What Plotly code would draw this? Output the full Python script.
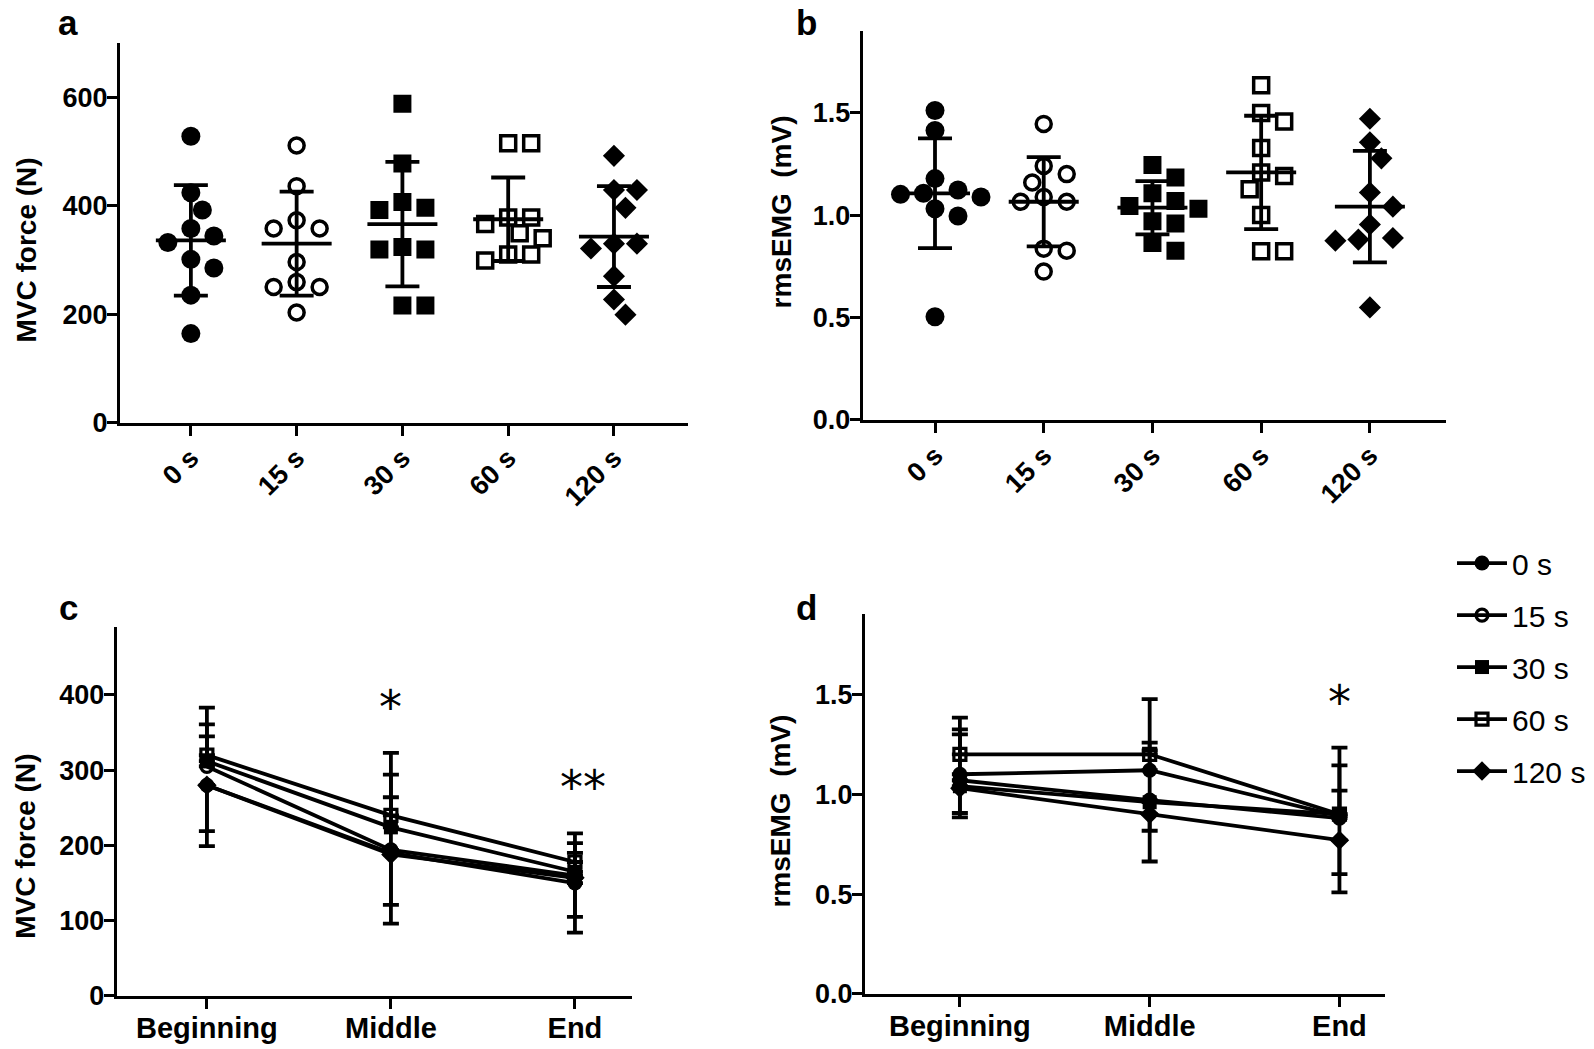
import plotly.graph_objects as go

W, H = 1594, 1049
HC = 1032  # vertical pixel span used to place items on the page
FONT = "Liberation Sans, Arial, sans-serif"

# ---------------- data ----------------
groups = ["0 s", "15 s", "30 s", "60 s", "120 s"]

# panel a: MVC force (N), individual subjects
a_0s = [528, 424, 392, 358, 344, 332, 301, 285, 235, 164]
a_15s = [511, 436, 373, 358, 358, 296, 259, 250, 250, 203]
a_30s = [588, 478, 407, 396, 392, 324, 319, 319, 216, 216]
a_60s = [515, 515, 378, 378, 366, 349, 340, 310, 310, 299]
a_120s = [492, 429, 429, 396, 330, 330, 321, 270, 227, 199]
a_mean = [336, 330, 366, 375, 343]
a_sd = [102, 96, 115, 77, 93]

# panel b: rmsEMG (mV), individual subjects
b_0s = [1.511, 1.413, 1.178, 1.122, 1.106, 1.101, 1.088, 1.031, 0.995, 0.503]
b_15s = [1.445, 1.24, 1.20, 1.159, 1.088, 1.065, 1.065, 0.836, 0.826, 0.724]
b_30s = [1.244, 1.183, 1.106, 1.068, 1.044, 1.031, 0.970, 0.959, 0.864, 0.826]
b_60s = [1.634, 1.498, 1.457, 1.327, 1.208, 1.191, 1.126, 1.0, 0.823, 0.823]
b_120s = [1.47, 1.355, 1.277, 1.11, 1.041, 0.954, 0.888, 0.880, 0.875, 0.549]
b_mean = [1.106, 1.065, 1.036, 1.208, 1.041]
b_sd = [0.268, 0.218, 0.130, 0.277, 0.272]

# panels c, d: phases of the contraction
phases = ["Beginning", "Middle", "End"]
c_mean_0s = [280, 190, 150]
c_mean_15s = [305, 194, 160]
c_mean_30s = [312, 224, 165]
c_mean_60s = [320, 240, 178]
c_mean_120s = [280, 188, 157]
c_sd_0s = [81, 69, 66]
c_sd_15s = [40, 70, 30]
c_sd_30s = [49, 70, 38]
c_sd_60s = [63, 83, 38]
c_sd_120s = [61, 92, 52]
c_sig = ["", "*", "**"]

d_mean_0s = [1.10, 1.12, 0.89]
d_mean_15s = [1.07, 0.97, 0.88]
d_mean_30s = [1.04, 0.96, 0.90]
d_mean_60s = [1.20, 1.20, 0.90]
d_mean_120s = [1.03, 0.90, 0.77]
d_sd_0s = [0.225, 0.356, 0.254]
d_sd_15s = [0.23, 0.25, 0.138]
d_sd_30s = [0.134, 0.143, 0.30]
d_sd_60s = [0.184, 0.058, 0.333]
d_sd_120s = [0.146, 0.237, 0.261]
d_sig = ["", "", "*"]

# ---------------- layout geometry (px) ----------------
A_X, A_Y, A_XR, A_YR = (120, 688), (43, 421.7), [-0.67, 4.70], [0, 700]
B_X, B_Y, B_XR, B_YR = (862.7, 1446), (30.7, 419), [-0.665, 4.70], [0, 1.9]
C_X, C_Y, C_XR, C_YR = (116.7, 632), (626, 994), [-0.49, 2.31], [0, 490]
D_X, D_Y, D_XR, D_YR = (865, 1385), (613.3, 992), [-0.5, 2.24], [0, 1.9]


def xdom(px):
    return [px[0] / W, px[1] / W]


def yfrac(py):
    return 1 - py / HC


def ydom(py):
    return [yfrac(py[1]), yfrac(py[0])]


symbols = ["circle", "circle-open", "square", "square-open", "diamond"]
sizes_ab = [19, 15, 18, 15, 17]
sizes_cd = [15, 12, 14, 12, 15]


def swarm(vals, px_per_unit, d=18.5, step=11.5):
    placed = []
    offs = [0.0] * len(vals)
    order = sorted(range(len(vals)), key=lambda i: -vals[i])
    cands = [0] + [s * j for j in range(1, 12) for s in (1, -1)]
    for i in order:
        y = vals[i] * px_per_unit
        for c in cands:
            x = c * step
            if all((x - px) ** 2 + (y - py) ** 2 >= d * d for py, px in placed):
                break
        placed.append((y, x))
        offs[i] = x
    return offs


fig = go.Figure()


def add_scatter_panel(series, means, sds, xax, yax, XP, YP, XR, YR):
    px_per_unit = (YP[1] - YP[0]) / (YR[1] - YR[0])
    px_per_cat = (XP[1] - XP[0]) / (XR[1] - XR[0])
    for gi, vals in enumerate(series):
        offs = swarm(vals, px_per_unit)
        xs = [gi + o / px_per_cat for o in offs]
        fig.add_trace(go.Scatter(
            x=xs, y=vals, mode="markers", xaxis=xax, yaxis=yax, showlegend=False,
            marker=dict(symbol=symbols[gi], size=sizes_ab[gi], color="black",
                        line=dict(color="black", width=3.5 if "open" in symbols[gi] else 0)),
            hoverinfo="skip"))
    fig.add_trace(go.Scatter(
        x=list(range(len(means))), y=means, mode="markers", xaxis=xax, yaxis=yax,
        showlegend=False,
        marker=dict(symbol="line-ew-open", size=50, color="black",
                    line=dict(color="black", width=3.8)),
        error_y=dict(type="data", array=sds, visible=True, thickness=3.8, width=17,
                     color="black"),
        hoverinfo="skip"))


add_scatter_panel([a_0s, a_15s, a_30s, a_60s, a_120s], a_mean, a_sd, "x", "y",
                  A_X, A_Y, A_XR, A_YR)
add_scatter_panel([b_0s, b_15s, b_30s, b_60s, b_120s], b_mean, b_sd, "x2", "y2",
                  B_X, B_Y, B_XR, B_YR)

c_means = [c_mean_0s, c_mean_15s, c_mean_30s, c_mean_60s, c_mean_120s]
c_sds = [c_sd_0s, c_sd_15s, c_sd_30s, c_sd_60s, c_sd_120s]
d_means = [d_mean_0s, d_mean_15s, d_mean_30s, d_mean_60s, d_mean_120s]
d_sds = [d_sd_0s, d_sd_15s, d_sd_30s, d_sd_60s, d_sd_120s]
c_bar_up = [False, True, True, True, False]
d_bar_up = [True, True, False, True, False]


def add_line_panel(means, sds, bar_up, xax, yax, legend):
    for gi in range(len(means)):
        up = bar_up[gi]
        zeros = [0] * len(sds[gi])
        fig.add_trace(go.Scatter(
            x=list(range(len(phases))), y=means[gi], mode="lines+markers",
            xaxis=xax, yaxis=yax, name=groups[gi], showlegend=legend,
            legendgroup=groups[gi],
            line=dict(color="black", width=3.8),
            marker=dict(symbol=symbols[gi], size=sizes_cd[gi], color="black",
                        line=dict(color="black", width=3.2 if "open" in symbols[gi] else 0)),
            error_y=dict(type="data", symmetric=False,
                         array=sds[gi] if up else zeros,
                         arrayminus=zeros if up else sds[gi],
                         visible=True, thickness=3.8, width=8, color="black"),
            hoverinfo="skip"))


add_line_panel(c_means, c_sds, c_bar_up, "x3", "y3", True)
add_line_panel(d_means, d_sds, d_bar_up, "x4", "y4", False)

annotations = []


def star_annotations(means, sds, bar_up, sig, xref, yref, YP, YR):
    px_per_unit = (YP[1] - YP[0]) / (YR[1] - YR[0])
    for k, s in enumerate(sig):
        if not s:
            continue
        top = max(means[g][k] + (sds[g][k] if bar_up[g] else 0) for g in range(len(means)))
        annotations.append(dict(
            x=k, y=top + 46 / px_per_unit, xref=xref, yref=yref, text=s,
            showarrow=False, xanchor="center", yanchor="middle",
            xshift=8 if len(s) > 1 else 0,
            font=dict(family="DejaVu Sans", size=46, color="black")))


star_annotations(c_means, c_sds, c_bar_up, c_sig, "x3", "y3", C_Y, C_YR)
star_annotations(d_means, d_sds, d_bar_up, d_sig, "x4", "y4", D_Y, D_YR)

# axis titles and panel letters
titles = [("MVC force (N)", 26, 250, 28), ("rmsEMG  (mV)", 781, 212, 28),
          ("MVC force (N)", 26, 845, 28), ("rmsEMG  (mV)", 781, 810, 28)]
for t, x, y, s in titles:
    annotations.append(dict(text=t, x=x / W, y=yfrac(y), xref="paper", yref="paper",
                            showarrow=False, textangle=-90, xanchor="center",
                            yanchor="middle",
                            font=dict(family=FONT, size=s, color="black", weight="bold")))
letters = [("a", 68, 22), ("b", 806, 22), ("c", 68, 606), ("d", 806, 606)]
for t, x, y in letters:
    annotations.append(dict(text=t, x=x / W, y=yfrac(y), xref="paper", yref="paper",
                            showarrow=False, xanchor="center", yanchor="middle",
                            font=dict(family=FONT, size=35, color="black", weight="bold")))

tickfont = dict(family=FONT, size=27, color="black", weight="bold")


def xaxis(dom, rng, labels, angle, size, standoff):
    return dict(domain=xdom(dom), range=rng, tickmode="array",
                tickvals=list(range(len(labels))), ticktext=labels, tickangle=angle,
                showline=True, linewidth=3, linecolor="black", ticks="outside",
                ticklen=10, tickwidth=3, tickcolor="black", showgrid=False,
                zeroline=False, ticklabelstandoff=standoff,
                tickfont=dict(family=FONT, size=size, color="black", weight="bold"))


def yaxis(dom, rng, vals, fmt):
    return dict(domain=ydom(dom), range=rng, tickmode="array", tickvals=vals,
                ticktext=[fmt.format(v) for v in vals],
                showline=True, linewidth=3, linecolor="black", ticks="outside",
                ticklen=10, tickwidth=3, tickcolor="black", showgrid=False,
                zeroline=False, ticklabelstandoff=-6, tickfont=tickfont)


fig.update_layout(
    width=W, height=H, autosize=False, margin=dict(l=0, r=0, t=0, b=0),
    paper_bgcolor="white", plot_bgcolor="white",
    xaxis=xaxis(A_X, A_XR, groups, -45, 27, -4),
    yaxis=yaxis(A_Y, A_YR, [0, 200, 400, 600], "{:.0f}"),
    xaxis2=dict(xaxis(B_X, B_XR, groups, -45, 27, -4), anchor="y2"),
    yaxis2=dict(yaxis(B_Y, B_YR, [0, 0.5, 1.0, 1.5], "{:.1f}"), anchor="x2"),
    xaxis3=dict(xaxis(C_X, C_XR, phases, 0, 29, -6), anchor="y3"),
    yaxis3=dict(yaxis(C_Y, C_YR, [0, 100, 200, 300, 400], "{:.0f}"), anchor="x3"),
    xaxis4=dict(xaxis(D_X, D_XR, phases, 0, 29, -6), anchor="y4"),
    yaxis4=dict(yaxis(D_Y, D_YR, [0, 0.5, 1.0, 1.5], "{:.1f}"), anchor="x4"),
    legend=dict(x=1452 / W, y=yfrac(536), xanchor="left", yanchor="top",
                font=dict(family=FONT, size=30, color="black"),
                tracegroupgap=10, bgcolor="rgba(0,0,0,0)", itemwidth=50),
    annotations=annotations,
    showlegend=True,
)

fig.write_html("out.html",
               config={"displayModeBar": False, "responsive": False},
               post_script="document.body.style.margin='0';"
                           "document.body.style.overflow='hidden';")
